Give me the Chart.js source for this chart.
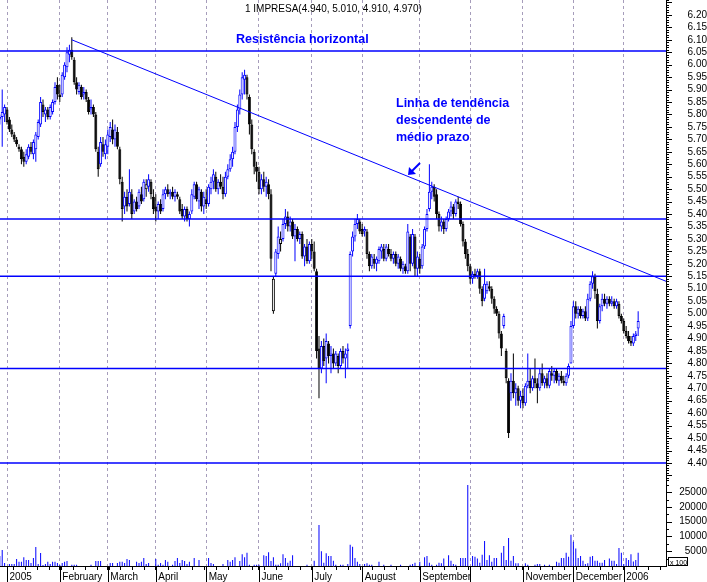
<!DOCTYPE html>
<html>
<head>
<meta charset="utf-8">
<script src="https://cdn.jsdelivr.net/npm/chart.js@4.4.0/dist/chart.umd.min.js"></script>
<style>
  html, body { margin: 0; padding: 0; background: #fff; }
</style>
</head>
<body>
<canvas id="chart" width="707" height="582"></canvas>
<script>
// daily candles, [open, high, low, close], one array per month
const dec04 = [[5.78,5.80,5.76,5.79],[5.79,5.90,5.67,5.81],[5.80,5.84,5.77,5.83]];
const jan05 = [
  [5.82,5.83,5.76,5.77],[5.78,5.79,5.73,5.74],[5.74,5.76,5.71,5.72],[5.72,5.73,5.69,5.70],
  [5.70,5.71,5.67,5.68],[5.67,5.68,5.65,5.66],[5.66,5.67,5.60,5.62],[5.63,5.65,5.59,5.61],
  [5.61,5.66,5.60,5.64],[5.63,5.68,5.62,5.67],[5.67,5.69,5.64,5.65],[5.64,5.70,5.62,5.69],
  [5.66,5.73,5.61,5.72],[5.71,5.78,5.70,5.77],[5.76,5.87,5.75,5.85],[5.84,5.86,5.79,5.81],
  [5.80,5.83,5.77,5.82],[5.82,5.83,5.78,5.79],[5.79,5.84,5.78,5.83],[5.81,5.86,5.80,5.85],
  [5.85,5.93,5.84,5.91],[5.92,5.95,5.86,5.88]
];
const feb05 = [
  [5.88,5.92,5.85,5.87],[5.88,5.97,5.87,5.96],[5.95,6.01,5.94,6.00],[5.99,6.07,5.97,6.05],
  [6.04,6.08,6.01,6.06],[6.06,6.11,6.02,6.03],[6.02,6.03,5.92,5.93],[5.93,5.95,5.88,5.90],
  [5.89,5.93,5.88,5.92],[5.91,5.92,5.86,5.87],[5.88,5.91,5.86,5.89],[5.89,5.90,5.85,5.86],
  [5.86,5.87,5.80,5.81],[5.82,5.86,5.80,5.83],[5.83,5.84,5.79,5.80],[5.80,5.81,5.65,5.66],
  [5.65,5.67,5.55,5.58],[5.60,5.71,5.59,5.69],[5.68,5.71,5.63,5.65],[5.64,5.70,5.62,5.68]
];
const mar05 = [
  [5.67,5.74,5.64,5.72],[5.71,5.77,5.69,5.75],[5.74,5.78,5.68,5.70],[5.70,5.76,5.67,5.74],
  [5.73,5.75,5.66,5.67],[5.66,5.67,5.52,5.54],[5.53,5.55,5.37,5.42],[5.43,5.49,5.40,5.47],
  [5.47,5.50,5.41,5.43],[5.44,5.58,5.43,5.49],[5.48,5.50,5.38,5.40],[5.41,5.46,5.40,5.45],
  [5.45,5.47,5.41,5.42],[5.43,5.50,5.42,5.49],[5.48,5.51,5.44,5.45],[5.46,5.54,5.45,5.53],
  [5.50,5.54,5.47,5.52],[5.51,5.56,5.49,5.54],[5.53,5.54,5.46,5.48],[5.47,5.50,5.40,5.42]
];
const apr05 = [
  [5.43,5.48,5.37,5.41],[5.41,5.45,5.38,5.44],[5.44,5.46,5.40,5.41],[5.42,5.50,5.41,5.48],
  [5.48,5.51,5.46,5.50],[5.50,5.52,5.47,5.48],[5.48,5.50,5.46,5.49],[5.49,5.51,5.46,5.47],
  [5.47,5.50,5.45,5.49],[5.48,5.49,5.46,5.47],[5.46,5.47,5.40,5.41],[5.42,5.44,5.38,5.39],
  [5.39,5.43,5.37,5.42],[5.42,5.43,5.37,5.38],[5.38,5.41,5.35,5.40],[5.41,5.50,5.40,5.48],
  [5.47,5.53,5.46,5.52],[5.52,5.53,5.45,5.46],[5.45,5.51,5.42,5.50],[5.49,5.50,5.41,5.43],
  [5.43,5.49,5.40,5.47]
];
const may05 = [
  [5.46,5.50,5.42,5.44],[5.44,5.52,5.43,5.51],[5.50,5.55,5.48,5.53],[5.53,5.58,5.50,5.56],
  [5.55,5.57,5.49,5.50],[5.50,5.54,5.48,5.53],[5.53,5.56,5.50,5.51],[5.51,5.55,5.46,5.48],
  [5.48,5.57,5.47,5.55],[5.55,5.60,5.54,5.58],[5.58,5.64,5.57,5.62],[5.62,5.67,5.59,5.65],
  [5.65,5.77,5.64,5.75],[5.75,5.84,5.73,5.82],[5.82,5.90,5.80,5.88],[5.88,5.97,5.86,5.95],
  [5.94,5.98,5.88,5.96],[5.95,5.96,5.86,5.88],[5.87,5.88,5.72,5.76],[5.76,5.78,5.64,5.66],
  [5.65,5.66,5.56,5.59],[5.59,5.61,5.53,5.57]
];
const jun05 = [
  [5.57,5.59,5.48,5.50],[5.50,5.56,5.48,5.54],[5.54,5.57,5.49,5.51],[5.51,5.55,5.47,5.53],
  [5.52,5.54,5.46,5.48],[5.48,5.50,5.17,5.22],[5.01,5.15,5.00,5.14],[5.16,5.26,5.15,5.25],
  [5.24,5.35,5.22,5.31],[5.28,5.33,5.25,5.30],[5.30,5.38,5.29,5.36],[5.36,5.42,5.34,5.39],
  [5.39,5.41,5.33,5.35],[5.35,5.39,5.33,5.37],[5.37,5.38,5.30,5.31],[5.31,5.36,5.21,5.34],
  [5.34,5.35,5.29,5.30],[5.30,5.33,5.28,5.32],[5.32,5.33,5.22,5.23],[5.23,5.28,5.19,5.27],
  [5.27,5.30,5.20,5.21],[5.21,5.29,5.20,5.28]
];
const jul05 = [
  [5.28,5.30,5.22,5.25],[5.25,5.29,5.17,5.18],[5.17,5.18,4.82,4.85],[4.86,4.91,4.66,4.78],
  [4.78,4.89,4.76,4.87],[4.87,4.90,4.79,4.81],[4.82,4.92,4.72,4.89],[4.88,4.89,4.80,4.83],
  [4.83,4.87,4.76,4.84],[4.84,4.86,4.78,4.80],[4.80,4.85,4.79,4.84],[4.83,4.84,4.76,4.79],
  [4.79,4.86,4.78,4.85],[4.85,4.87,4.80,4.82],[4.82,4.86,4.74,4.84],[4.85,4.88,4.78,4.86],
  [4.95,5.25,4.94,5.24],[5.25,5.33,5.23,5.31],[5.31,5.38,5.29,5.36],[5.36,5.40,5.34,5.38],
  [5.37,5.38,5.32,5.33]
];
const aug05 = [
  [5.34,5.36,5.31,5.32],[5.33,5.35,5.31,5.34],[5.33,5.34,5.22,5.24],[5.24,5.25,5.17,5.19],
  [5.19,5.24,5.18,5.23],[5.22,5.24,5.18,5.20],[5.20,5.23,5.17,5.22],[5.21,5.27,5.20,5.26],
  [5.25,5.28,5.22,5.27],[5.26,5.28,5.21,5.22],[5.22,5.28,5.21,5.27],[5.26,5.28,5.23,5.24],
  [5.24,5.26,5.21,5.22],[5.22,5.25,5.20,5.24],[5.24,5.25,5.19,5.20],[5.20,5.24,5.18,5.23],
  [5.22,5.23,5.17,5.18],[5.18,5.21,5.16,5.20],[5.19,5.20,5.16,5.17],[5.17,5.36,5.16,5.33],
  [5.31,5.32,5.17,5.20],[5.20,5.34,5.19,5.32],[5.31,5.32,5.15,5.18],[5.18,5.25,5.15,5.23]
];
const sep05 = [
  [5.22,5.24,5.16,5.18],[5.19,5.28,5.18,5.27],[5.27,5.35,5.26,5.34],[5.34,5.42,5.33,5.40],
  [5.42,5.60,5.41,5.49],[5.49,5.53,5.46,5.51],[5.51,5.52,5.45,5.47],[5.48,5.50,5.38,5.40],
  [5.40,5.41,5.33,5.35],[5.35,5.39,5.33,5.37],[5.37,5.38,5.32,5.34],[5.34,5.39,5.33,5.38],
  [5.38,5.42,5.37,5.41],[5.41,5.45,5.39,5.43],[5.43,5.44,5.38,5.40],[5.40,5.46,5.39,5.45],
  [5.45,5.47,5.42,5.44],[5.44,5.45,5.35,5.36],[5.36,5.37,5.27,5.29],[5.29,5.30,5.22,5.24],
  [5.24,5.26,5.17,5.19]
];
const oct05 = [
  [5.19,5.20,5.12,5.14],[5.14,5.17,5.12,5.16],[5.16,5.18,5.14,5.15],[5.15,5.18,5.14,5.17],
  [5.17,5.18,5.08,5.10],[5.10,5.11,5.03,5.05],[5.06,5.18,5.05,5.12],[5.09,5.13,5.08,5.12],
  [5.11,5.13,5.09,5.10],[5.10,5.11,5.04,5.06],[5.06,5.07,5.00,5.02],[5.02,5.03,4.99,5.00],
  [5.00,5.01,4.90,4.92],[4.92,4.93,4.83,4.86],[4.95,5.00,4.94,4.99],[4.85,4.86,4.72,4.74],
  [4.73,4.74,4.50,4.52],[4.68,4.76,4.65,4.73],[4.73,4.84,4.66,4.68],[4.68,4.72,4.63,4.70],
  [4.70,4.71,4.63,4.65],[4.65,4.69,4.62,4.67]
];
const nov05 = [
  [4.67,4.70,4.62,4.64],[4.64,4.72,4.63,4.71],[4.71,4.84,4.70,4.73],[4.73,4.78,4.68,4.70],
  [4.70,4.75,4.69,4.74],[4.74,4.82,4.70,4.72],[4.72,4.74,4.64,4.70],[4.70,4.78,4.69,4.76],
  [4.76,4.80,4.71,4.72],[4.72,4.75,4.70,4.74],[4.74,4.76,4.70,4.71],[4.71,4.78,4.70,4.77],
  [4.76,4.79,4.73,4.75],[4.75,4.78,4.72,4.77],[4.77,4.78,4.72,4.73],[4.73,4.76,4.71,4.75],
  [4.75,4.77,4.72,4.73],[4.73,4.75,4.71,4.72],[4.72,4.76,4.71,4.75],[4.75,4.80,4.74,4.79],
  [4.80,4.97,4.80,4.95]
];
const dec05 = [
  [4.95,5.05,4.94,5.03],[5.03,5.05,4.98,5.00],[5.00,5.03,4.98,5.02],[5.02,5.03,4.98,4.99],
  [4.99,5.02,4.98,5.01],[5.01,5.03,4.97,4.98],[4.98,5.08,4.97,5.06],[5.06,5.13,5.05,5.12],
  [5.12,5.17,5.10,5.15],[5.15,5.16,5.06,5.09],[5.08,5.10,4.94,4.97],[4.97,5.04,4.96,5.03],
  [5.03,5.08,5.01,5.06],[5.06,5.08,5.03,5.04],[5.04,5.07,5.02,5.06],[5.06,5.07,5.03,5.04],
  [5.04,5.07,5.03,5.05],[5.05,5.06,5.02,5.03],[5.03,5.06,5.02,5.05],[5.04,5.05,4.98,4.99],
  [4.99,5.00,4.96,4.97]
];
const jan06 = [
  [4.97,4.98,4.92,4.93],[4.93,4.95,4.90,4.91],[4.91,4.93,4.88,4.89],[4.89,4.91,4.87,4.88],
  [4.88,4.92,4.87,4.91],[4.91,4.93,4.89,4.92],[4.94,5.01,4.91,4.97]
];

// volume (axis units, shown "x 100"), one array per month
const volDec04 = [3400,5400,1000];
const volJan05 = [0,700,700,700,2400,1400,1400,3000,2000,2000,1000,2700,6400,700,4400,300,700,1400,700,1400,1400,1000];
const volFeb05 = [300,1000,1400,1700,0,400,400,400,0,0,0,0,0,400,0,1700,1700,1700,0,0];
const volMar05 = [0,1000,1000,0,1000,1400,1400,1000,2400,2000,0,0,1400,1000,1400,2700,700,1000,0,0];
const volApr05 = [2400,400,1000,400,2000,1400,0,400,1700,2700,1000,2000,1700,700,1400,0,2700,0,2000,0,0];
const volMay05 = [0,2700,1000,700,0,0,0,700,0,2000,1400,2000,3000,0,1700,4000,3000,4500,400,0,400,400];
const volJun05 = [400,0,3600,3400,4700,1700,3000,400,400,900,4000,2700,1100,1800,3600,0,0,0,0,0,400,0];
const volJul05 = [0,1800,0,13900,5000,1100,4300,3400,3400,1800,400,0,400,400,0,700,7200,6500,2700,1400,700];
const volAug05 = [0,700,900,400,400,0,0,1400,0,400,0,0,400,0,0,0,400,0,0,0,400,700,1100,0];
const volSep05 = [1400,0,3000,3400,1100,400,0,400,1100,900,2500,0,3600,1800,700,400,0,2700,2700,2700,27400];
const volOct05 = [0,3400,3100,2500,1100,3800,8500,2000,3600,1400,2700,2700,0,4500,6800,2000,9500,1800,3400,900,900,0];
const volNov05 = [0,900,400,0,0,400,700,700,0,400,0,400,0,0,1400,1100,2700,2700,4500,3100,10600];
const volDec05 = [8200,5900,2700,3400,1800,700,900,3100,3400,1800,1800,1100,1100,2000,0,2500,1800,1800,700,6100,4500];
const volJan06 = [700,2700,2000,4000,1500,2000,4500];

const monthNames = ['2005','February','March','April','May','June','July','August','September','October','November','December','2006'];
const hiddenMonthLabels = ['October']; // no room after "September"

// drawn lines
const resistLevels = [6.055, 5.38, 5.15, 4.78, 4.40];
const trendX = [27, 274.6];
const trendY = [6.10, 5.13];

// axis ranges
const xMin = -2.92, xMax = 274.6;
const priceMin = 4.33, priceMax = 6.26;
const volMax = 29000;
const volTicks = [5000, 10000, 15000, 20000, 25000];

const FONT = '"Liberation Sans", Arial, sans-serif';
const BLUE = '#0000ff';

const monthRows = [jan05, feb05, mar05, apr05, may05, jun05, jul05, aug05, sep05, oct05, nov05, dec05, jan06];
const monthVols = [volJan05, volFeb05, volMar05, volApr05, volMay05, volJun05, volJul05, volAug05, volSep05, volOct05, volNov05, volDec05, volJan06];

const rows = dec04.concat(...monthRows);
const vols = volDec04.concat(...monthVols);
const first = -dec04.length;
const idx = rows.map((r, i) => first + i);

const monthStarts = [];
let acc = 0;
monthRows.forEach(m => { monthStarts.push(acc); acc += m.length; });
const monthLabel = new Map();
monthStarts.forEach((s, i) => monthLabel.set(s, hiddenMonthLabels.includes(monthNames[i]) ? '' : monthNames[i]));

// weekly ticks between friday and monday
const weekTicks = [];
for (let w = 2.5; w < xMax; w += 5) weekTicks.push(w);
const xTicks = monthStarts.concat(weekTicks).sort((a, b) => a - b);

// colour: blue if close >= previous close, black otherwise; hollow if close > open
const lineCol = rows.map((r, i) => (i === 0 || r[3] >= rows[i - 1][3]) ? BLUE : '#000000');
const fillCol = rows.map((r, i) => r[3] > r[0] ? '#ffffff' : lineCol[i]);

const last = rows[rows.length - 1];
const titleText = '1 IMPRESA(' + last.map(v => v.toFixed(3)).join(', ') + ')';

const datasets = [];
resistLevels.forEach(lv => {
  datasets.push({
    type: 'line', data: [{x: xMin, y: lv}, {x: xMax, y: lv}],
    borderColor: BLUE, borderWidth: 1.5, pointRadius: 0, yAxisID: 'y', order: 0
  });
});
datasets.push({
  type: 'line', data: trendX.map((x, i) => ({x: x, y: trendY[i]})),
  borderColor: BLUE, borderWidth: 1, pointRadius: 0, yAxisID: 'y', order: 0
});
datasets.push({
  type: 'bar', data: rows.map((r, i) => ({x: idx[i], y: [r[0], r[3]]})),
  backgroundColor: fillCol, borderColor: lineCol, borderWidth: 1, borderSkipped: false,
  barThickness: 3, grouped: false, inflateAmount: 0, yAxisID: 'y', order: 1
});
datasets.push({
  type: 'bar', data: rows.map((r, i) => ({x: idx[i], y: [r[2], r[1]]})),
  backgroundColor: lineCol, borderWidth: 0,
  barThickness: 1, grouped: false, inflateAmount: 0, yAxisID: 'y', order: 2
});
datasets.push({
  type: 'bar', data: vols.map((v, i) => ({x: idx[i], y: v})),
  backgroundColor: BLUE, borderWidth: 0,
  barThickness: 1, grouped: false, inflateAmount: 0, yAxisID: 'vol', order: 2
});

const decor = {
  id: 'decor',
  afterDraw(chart) {
    const ctx = chart.ctx;
    const xs = chart.scales.x, ys = chart.scales.y, vs = chart.scales.vol;
    const area = chart.chartArea;
    ctx.save();
    ctx.strokeStyle = '#000';
    ctx.lineWidth = 1;
    ctx.beginPath();
    // price axis ticks, minor every 0.01
    for (let k = Math.ceil(priceMin * 100); k <= Math.floor(priceMax * 100); k++) {
      const py = Math.round(ys.getPixelForValue(k / 100)) + 0.5;
      const len = k % 5 === 0 ? 6 : 3;
      ctx.moveTo(area.right, py); ctx.lineTo(area.right + len, py);
    }
    // volume ticks
    for (let q = 2500; q < volMax; q += 2500) {
      const py = Math.round(vs.getPixelForValue(q)) + 0.5;
      const len = q % 5000 === 0 ? 6 : 3;
      ctx.moveTo(area.right, py); ctx.lineTo(area.right + len, py);
    }
    // long month ticks under the axis
    monthStarts.forEach(m => {
      const px = Math.round(xs.getPixelForValue(m)) + 0.5;
      ctx.moveTo(px, area.bottom); ctx.lineTo(px, chart.height);
    });
    ctx.stroke();

    // x 100 box
    ctx.strokeRect(668.5, 557.5, 19, 8);
    ctx.fillStyle = '#000';
    ctx.font = '7px ' + FONT;
    ctx.textBaseline = 'alphabetic';
    ctx.fillText('x 100', 670, 564.5);

    // title
    ctx.font = '10px ' + FONT;
    ctx.fillText(titleText, 245, 12);

    // annotations
    ctx.fillStyle = BLUE;
    ctx.font = 'bold 12.5px ' + FONT;
    ctx.fillText('Resistência horizontal', 236, 43);
    ctx.fillText('Linha de tendência', 396, 107);
    ctx.fillText('descendente de', 396, 124);
    ctx.fillText('médio prazo', 396, 141);

    // arrow
    ctx.strokeStyle = BLUE;
    ctx.lineWidth = 2;
    ctx.beginPath();
    ctx.moveTo(420, 163); ctx.lineTo(412, 171);
    ctx.stroke();
    ctx.beginPath();
    ctx.moveTo(408, 175); ctx.lineTo(409, 167); ctx.lineTo(416, 174);
    ctx.closePath();
    ctx.fill();
    ctx.restore();
  }
};

new Chart(document.getElementById('chart'), {
  type: 'bar',
  data: { datasets: datasets },
  options: {
    responsive: false,
    animation: false,
    events: [],
    layout: { padding: 0 },
    plugins: { legend: { display: false }, tooltip: { enabled: false } },
    scales: {
      x: {
        type: 'linear', position: 'bottom', min: xMin, max: xMax, offset: false,
        afterBuildTicks: s => { s.ticks = xTicks.map(v => ({value: v})); },
        afterFit: s => { s.height = 16; s.paddingLeft = 0; s.paddingRight = 0; },
        grid: {
          offset: false, drawOnChartArea: true, drawTicks: true, tickLength: 4, tickColor: '#000',
          color: c => (c.tick && monthLabel.has(c.tick.value)) ? 'rgba(150,140,175,0.85)' : 'rgba(0,0,0,0)'
        },
        border: { display: true, color: '#000', width: 1, dash: [3, 3] },
        ticks: {
          autoSkip: false, maxRotation: 0, align: 'start', labelOffset: 2.5, padding: 1,
          color: '#000', font: { family: FONT, size: 10 },
          callback: v => monthLabel.has(v) ? monthLabel.get(v) : ''
        }
      },
      y: {
        type: 'linear', position: 'right', stack: 'right', stackWeight: 480.4,
        min: priceMin, max: priceMax,
        afterBuildTicks: s => {
          const t = [];
          for (let k = 440; k <= 620; k += 5) t.push({value: k / 100});
          s.ticks = t;
        },
        afterFit: s => { s.width = 41; s.paddingTop = 0; s.paddingBottom = 0; },
        grid: { display: false, drawTicks: false },
        border: { display: true, color: '#000', width: 1 },
        ticks: {
          autoSkip: false, crossAlign: 'far', padding: 17.5,
          color: '#000', font: { family: FONT, size: 10 },
          callback: v => v.toFixed(2)
        }
      },
      vol: {
        type: 'linear', position: 'right', stack: 'right', stackWeight: 85.6,
        min: 0, max: volMax,
        afterBuildTicks: s => { s.ticks = volTicks.map(v => ({value: v})); },
        afterFit: s => { s.width = 41; s.paddingTop = 0; s.paddingBottom = 0; },
        grid: { display: false, drawTicks: false },
        border: { display: true, color: '#000', width: 1 },
        ticks: {
          autoSkip: false, crossAlign: 'far', padding: 9.2,
          color: '#000', font: { family: FONT, size: 10 },
          callback: v => String(v)
        }
      }
    }
  },
  plugins: [decor]
});
</script>
</body>
</html>
